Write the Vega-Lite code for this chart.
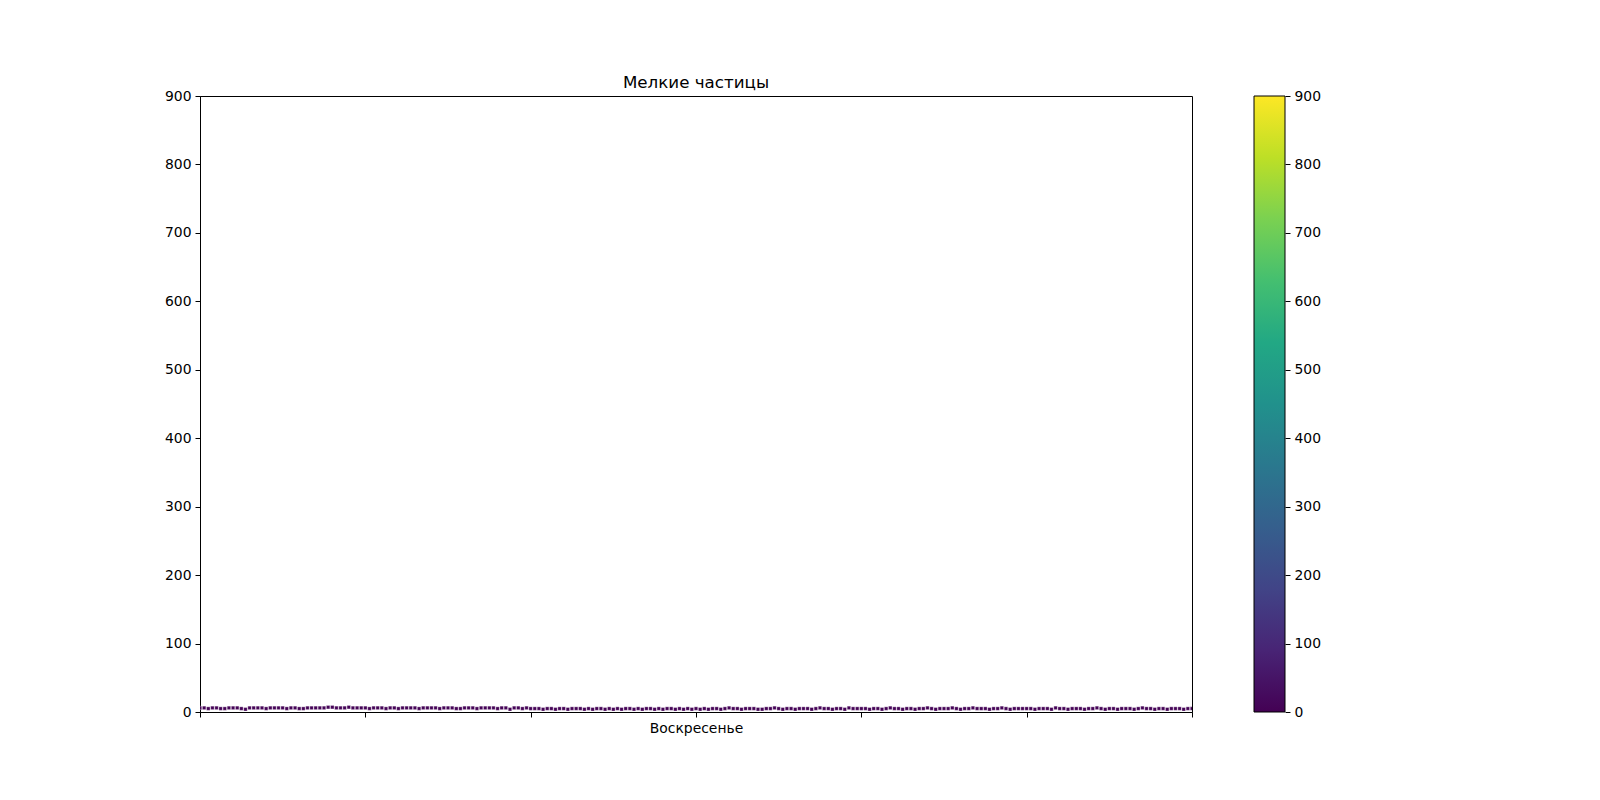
{
  "$schema": "https://vega.github.io/schema/vega-lite/v6.json",
  "autosize": {"type": "pad"},
  "padding": {"left": 163, "top": 74, "right": 0, "bottom": 0},
  "background": "white",
  "spacing": 60,
  "config": {
    "font": "DejaVu Sans",
    "view": {"stroke": "black", "strokeWidth": 1},
    "axis": {"grid": false, "domainColor": "black", "tickColor": "black", "labelColor": "black", "labelFont": "DejaVu Sans", "labelFontSize": 13.9, "tickSize": 5, "labelPadding": 4, "titleFont": "DejaVu Sans"}
  },
  "datasets": {
    "pm": [
{"i":0,"v":6},{"i":1,"v":6},{"i":2,"v":5},{"i":3,"v":6},{"i":4,"v":6},{"i":5,"v":5},{"i":6,"v":5},{"i":7,"v":6},{"i":8,"v":6},{"i":9,"v":6},
{"i":10,"v":5},{"i":11,"v":4},{"i":12,"v":6},{"i":13,"v":6},{"i":14,"v":6},{"i":15,"v":6},{"i":16,"v":5},{"i":17,"v":6},{"i":18,"v":6},{"i":19,"v":6},
{"i":20,"v":6},{"i":21,"v":5},{"i":22,"v":6},{"i":23,"v":6},{"i":24,"v":5},{"i":25,"v":5},{"i":26,"v":6},{"i":27,"v":6},{"i":28,"v":6},{"i":29,"v":6},
{"i":30,"v":6},{"i":31,"v":7},{"i":32,"v":7},{"i":33,"v":6},{"i":34,"v":6},{"i":35,"v":6},{"i":36,"v":7},{"i":37,"v":6},{"i":38,"v":6},{"i":39,"v":6},
{"i":40,"v":6},{"i":41,"v":5},{"i":42,"v":6},{"i":43,"v":6},{"i":44,"v":6},{"i":45,"v":5},{"i":46,"v":6},{"i":47,"v":6},{"i":48,"v":5},{"i":49,"v":6},
{"i":50,"v":6},{"i":51,"v":6},{"i":52,"v":6},{"i":53,"v":5},{"i":54,"v":6},{"i":55,"v":6},{"i":56,"v":6},{"i":57,"v":6},{"i":58,"v":5},{"i":59,"v":6},
{"i":60,"v":6},{"i":61,"v":6},{"i":62,"v":5},{"i":63,"v":5},{"i":64,"v":6},{"i":65,"v":6},{"i":66,"v":6},{"i":67,"v":5},{"i":68,"v":6},{"i":69,"v":6},
{"i":70,"v":6},{"i":71,"v":6},{"i":72,"v":5},{"i":73,"v":6},{"i":74,"v":6},{"i":75,"v":4},{"i":76,"v":6},{"i":77,"v":6},{"i":78,"v":5},{"i":79,"v":6},
{"i":80,"v":5},{"i":81,"v":5},{"i":82,"v":5},{"i":83,"v":4},{"i":84,"v":5},{"i":85,"v":5},{"i":86,"v":4},{"i":87,"v":5},{"i":88,"v":5},{"i":89,"v":4},
{"i":90,"v":5},{"i":91,"v":5},{"i":92,"v":5},{"i":93,"v":4},{"i":94,"v":5},{"i":95,"v":4},{"i":96,"v":5},{"i":97,"v":5},{"i":98,"v":4},{"i":99,"v":5},
{"i":100,"v":4},{"i":101,"v":5},{"i":102,"v":4},{"i":103,"v":5},{"i":104,"v":5},{"i":105,"v":4},{"i":106,"v":5},{"i":107,"v":4},{"i":108,"v":5},{"i":109,"v":5},
{"i":110,"v":4},{"i":111,"v":5},{"i":112,"v":4},{"i":113,"v":5},{"i":114,"v":5},{"i":115,"v":4},{"i":116,"v":5},{"i":117,"v":4},{"i":118,"v":5},{"i":119,"v":4},
{"i":120,"v":5},{"i":121,"v":4},{"i":122,"v":5},{"i":123,"v":4},{"i":124,"v":5},{"i":125,"v":5},{"i":126,"v":4},{"i":127,"v":5},{"i":128,"v":6},{"i":129,"v":5},
{"i":130,"v":5},{"i":131,"v":4},{"i":132,"v":5},{"i":133,"v":5},{"i":134,"v":5},{"i":135,"v":4},{"i":136,"v":4},{"i":137,"v":5},{"i":138,"v":5},{"i":139,"v":6},
{"i":140,"v":5},{"i":141,"v":4},{"i":142,"v":5},{"i":143,"v":5},{"i":144,"v":4},{"i":145,"v":5},{"i":146,"v":5},{"i":147,"v":5},{"i":148,"v":4},{"i":149,"v":5},
{"i":150,"v":6},{"i":151,"v":5},{"i":152,"v":5},{"i":153,"v":4},{"i":154,"v":5},{"i":155,"v":5},{"i":156,"v":4},{"i":157,"v":6},{"i":158,"v":5},{"i":159,"v":5},
{"i":160,"v":5},{"i":161,"v":5},{"i":162,"v":4},{"i":163,"v":5},{"i":164,"v":5},{"i":165,"v":4},{"i":166,"v":5},{"i":167,"v":6},{"i":168,"v":5},{"i":169,"v":5},
{"i":170,"v":4},{"i":171,"v":5},{"i":172,"v":5},{"i":173,"v":4},{"i":174,"v":5},{"i":175,"v":5},{"i":176,"v":6},{"i":177,"v":5},{"i":178,"v":4},{"i":179,"v":5},
{"i":180,"v":5},{"i":181,"v":5},{"i":182,"v":6},{"i":183,"v":5},{"i":184,"v":4},{"i":185,"v":5},{"i":186,"v":5},{"i":187,"v":6},{"i":188,"v":5},{"i":189,"v":5},
{"i":190,"v":5},{"i":191,"v":4},{"i":192,"v":5},{"i":193,"v":5},{"i":194,"v":6},{"i":195,"v":5},{"i":196,"v":4},{"i":197,"v":5},{"i":198,"v":5},{"i":199,"v":5},
{"i":200,"v":5},{"i":201,"v":5},{"i":202,"v":4},{"i":203,"v":5},{"i":204,"v":5},{"i":205,"v":5},{"i":206,"v":4},{"i":207,"v":6},{"i":208,"v":5},{"i":209,"v":5},
{"i":210,"v":4},{"i":211,"v":5},{"i":212,"v":5},{"i":213,"v":5},{"i":214,"v":4},{"i":215,"v":5},{"i":216,"v":5},{"i":217,"v":6},{"i":218,"v":5},{"i":219,"v":4},
{"i":220,"v":5},{"i":221,"v":5},{"i":222,"v":4},{"i":223,"v":5},{"i":224,"v":5},{"i":225,"v":5},{"i":226,"v":4},{"i":227,"v":5},{"i":228,"v":6},{"i":229,"v":5},
{"i":230,"v":5},{"i":231,"v":4},{"i":232,"v":5},{"i":233,"v":5},{"i":234,"v":4},{"i":235,"v":5},{"i":236,"v":5},{"i":237,"v":5},{"i":238,"v":4},{"i":239,"v":5},
{"i":240,"v":5}
    ],
    "bar": [{"lo": 0, "hi": 900}]
  },
  "hconcat": [
    {
      "width": 992,
      "height": 616,
      "title": {"text": "Мелкие частицы", "font": "DejaVu Sans", "fontSize": 16.7, "fontWeight": "normal", "color": "black", "offset": -3},
      "data": {"name": "pm"},
      "mark": {"type": "point", "shape": "square", "filled": true, "size": 12, "opacity": 1, "stroke": "white", "strokeWidth": 0.3, "clip": true},
      "encoding": {
        "x": {"field": "i", "type": "quantitative", "scale": {"domain": [0, 240], "nice": false, "zero": false},
          "axis": {"title": null, "values": [0, 40, 80, 120, 160, 200, 240], "labelExpr": "datum.value == 120 ? 'Воскресенье' : ''"}},
        "y": {"field": "v", "type": "quantitative", "scale": {"domain": [0, 900], "nice": false},
          "axis": {"title": null, "values": [0, 100, 200, 300, 400, 500, 600, 700, 800, 900], "labelOverlap": false}},
        "color": {"field": "v", "type": "quantitative", "scale": {"scheme": "viridis", "domain": [0, 900]}, "legend": null}
      }
    },
    {
      "width": 31,
      "height": 616,
      "view": {"stroke": null},
      "data": {"name": "bar"},
      "mark": {"type": "rect", "stroke": "black", "strokeWidth": 1,
        "fill": {"gradient": "linear", "x1": 0, "y1": 1, "x2": 0, "y2": 0, "stops": [
          {"offset": 0, "color": "#440154"}, {"offset": 0.1, "color": "#482475"}, {"offset": 0.2, "color": "#414487"},
          {"offset": 0.3, "color": "#355f8d"}, {"offset": 0.4, "color": "#2a788e"}, {"offset": 0.5, "color": "#21918c"},
          {"offset": 0.6, "color": "#22a884"}, {"offset": 0.7, "color": "#44bf70"}, {"offset": 0.8, "color": "#7ad151"},
          {"offset": 0.9, "color": "#bddf26"}, {"offset": 1, "color": "#fde725"}]}},
      "encoding": {
        "y": {"field": "lo", "type": "quantitative", "scale": {"domain": [0, 900], "nice": false},
          "axis": {"orient": "right", "title": null, "domain": false, "values": [0, 100, 200, 300, 400, 500, 600, 700, 800, 900], "labelOverlap": false}},
        "y2": {"field": "hi"}
      }
    }
  ]
}
